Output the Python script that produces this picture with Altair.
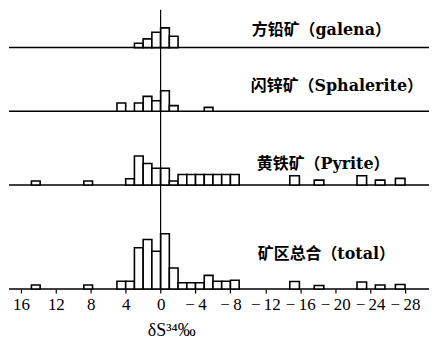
import altair as alt
import pandas as pd

# ---- data: δS34 (‰) histogram bins, upper edge / lower edge / frequency ----
galena_hi = [3, 2, 1, 0, -1]
galena_lo = [2, 1, 0, -1, -2]
galena_n = [1.0, 2.0, 3.5, 4.5, 2.6]

sphal_hi = [5, 3, 2, 1, 0, -1, -5]
sphal_lo = [4, 2, 1, 0, -1, -2, -6]
sphal_n = [1.9, 1.9, 3.4, 2.4, 4.7, 1.3, 0.9]

pyrite_hi = [14.8, 8.8, 4, 3, 2, 1, 0, -1, -2, -3, -4, -5, -6, -7, -8,
             -14.8, -17.6, -22.5, -24.6, -26.9]
pyrite_lo = [13.8, 7.8, 3, 2, 1, 0, -1, -2, -3, -4, -5, -6, -7, -8, -9,
             -15.9, -18.7, -23.6, -25.7, -28.0]
pyrite_n = [0.9, 0.9, 1.4, 6.6, 4.9, 3.8, 3.8, 0.9, 2.4, 2.4, 2.4, 2.4, 2.4, 2.4, 2.4,
            2.1, 1.1, 2.1, 1.1, 1.5]

total_hi = [14.8, 8.8, 5, 4, 3, 2, 1, 0, -1, -2, -3, -4, -5, -6, -7, -8,
            -14.8, -17.6, -22.5, -24.6, -26.9]
total_lo = [13.8, 7.8, 4, 3, 2, 1, 0, -1, -2, -3, -4, -5, -6, -7, -8, -9,
            -15.9, -18.7, -23.6, -25.7, -28.0]
total_n = [0.9, 0.9, 1.75, 1.75, 9.4, 11.3, 8.6, 12.6, 4.8, 1.4, 1.4, 1.4, 3.1, 1.75, 1.75, 2.0,
           1.7, 0.8, 1.6, 0.9, 1.0]

labels = ["方铅矿（galena）", "闪锌矿（Sphalerite）", "黄铁矿（Pyrite）", "矿区总合（total）"]
tick_values = [16, 12, 8, 4, 0, -4, -8, -12, -16, -20, -24, -28]
x_title = "δS³⁴‰"

# ---- layout / style ----
W = 422
X_DOMAIN = [-30.75, 17.37]
UNIT = 4.4  # px per frequency unit
panel_h = [38, 64, 74, 104.5]
label_pos = [(244, 25), (243, 44), (249, 58), (250, 74)]
FONT = "DejaVu Serif, Noto Sans CJK SC"


def panel(hi, lo, n, label, h, lpos, show_axis):
    df = pd.DataFrame({"hi": hi, "lo": lo, "n": n})
    xs = alt.Scale(domain=X_DOMAIN, reverse=True, nice=False, zero=False)
    ys = alt.Scale(domain=[0, h / UNIT], nice=False, zero=True)
    if show_axis:
        xa = alt.Axis(values=tick_values, domain=False, grid=False, ticks=True,
                      tickSize=4, tickColor="black", tickWidth=1.2,
                      labelFont="Liberation Serif", labelFontSize=17, labelColor="black",
                      labelBaseline="alphabetic", labelPadding=17,
                      labelFlush=False, labelOverlap=False,
                      labelExpr="datum.value < 0 ? '−\u2009' + abs(datum.value) : datum.label",
                      title=x_title, titleFont="Liberation Serif", titleFontSize=18,
                      titleFontWeight="normal", titleColor="black",
                      titleX=163, titleY=47, titleAlign="center",
                      titleBaseline="alphabetic")
    else:
        xa = None
    bars = alt.Chart(df).mark_bar(fill="white", stroke="black", strokeWidth=1.6).encode(
        x=alt.X("hi:Q", scale=xs, axis=xa),
        x2="lo:Q",
        y=alt.Y("n:Q", scale=ys, axis=None),
        y2=alt.datum(0),
    )
    base = alt.Chart(pd.DataFrame({"z": [0]})).mark_rule(color="black", strokeWidth=1.5).encode(
        y=alt.Y("z:Q", scale=ys, axis=None)
    )
    vline = alt.Chart(pd.DataFrame({"v": [0]})).mark_rule(color="black", strokeWidth=1.2).encode(
        x=alt.X("v:Q", scale=xs, axis=xa)
    )
    txt = alt.Chart(pd.DataFrame({"t": [label]})).mark_text(
        align="left", baseline="alphabetic", font=FONT, fontSize=16,
        fontWeight="bold", color="black"
    ).encode(text="t:N", x=alt.value(lpos[0]), y=alt.value(lpos[1]))
    return alt.layer(base, bars, vline, txt).properties(width=W, height=h)


panels = [
    panel(galena_hi, galena_lo, galena_n, labels[0], panel_h[0], label_pos[0], False),
    panel(sphal_hi, sphal_lo, sphal_n, labels[1], panel_h[1], label_pos[1], False),
    panel(pyrite_hi, pyrite_lo, pyrite_n, labels[2], panel_h[2], label_pos[2], False),
    panel(total_hi, total_lo, total_n, labels[3], panel_h[3], label_pos[3], True),
]

chart = (alt.vconcat(*panels, spacing=0, bounds="flush")
         .properties(padding=0)
         .configure_view(stroke=None))
chart.save("out.html", embed_options={"renderer": "svg", "actions": False})
